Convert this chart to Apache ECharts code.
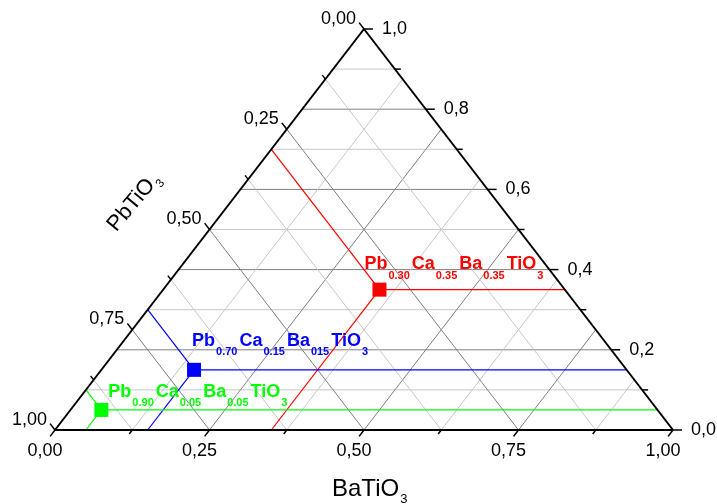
<!DOCTYPE html>
<html>
<head>
<meta charset="utf-8">
<script src="https://cdn.jsdelivr.net/npm/echarts@6/dist/echarts.min.js"></script>
<style>
  html, body { margin: 0; padding: 0; background: #ffffff; }
  #chart { width: 717px; height: 504px; }
</style>
</head>
<body>
<div id="chart"></div>
<script>
// Sample compositions (molar fractions of PbTiO3, CaTiO3, BaTiO3)
const pbFraction = [0.30, 0.70, 0.90];
const caFraction = [0.35, 0.15, 0.05];
const baFraction = [0.35, 0.15, 0.05];
const sampleColors = ['#ff0000', '#0000ff', '#00ff00'];

// Label text of each sample: [symbol, subscript] pieces
const sampleLabelParts = [
  [['Pb', '0.30'], ['Ca', '0.35'], ['Ba', '0.35'], ['TiO', '3']],
  [['Pb', '0.70'], ['Ca', '0.15'], ['Ba', '015'], ['TiO', '3']],
  [['Pb', '0.90'], ['Ca', '0.05'], ['Ba', '0.05'], ['TiO', '3']]
];

// Axis ticks
const baTicks = [0, 0.25, 0.5, 0.75, 1];
const baTickLabels = ['0,00', '0,25', '0,50', '0,75', '1,00'];
const baMinorTicks = [0.125, 0.375, 0.625, 0.875];
const pbTicks = [0, 0.25, 0.5, 0.75, 1];
const pbTickLabels = ['0,00', '0,25', '0,50', '0,75', '1,00'];
const pbMinorTicks = [0.125, 0.375, 0.625, 0.875];
const caTicks = [0, 0.2, 0.4, 0.6, 0.8, 1];
const caTickLabels = ['0,0', '0,2', '0,4', '0,6', '0,8', '1,0'];
const caMinorTicks = [0.1, 0.3, 0.5, 0.7, 0.9];

// Axis titles
const bottomTitle = ['BaTiO', '3'];
const leftTitle = ['PbTiO', '3'];

// ---- styling ----
const FONT_FAMILY = '"Liberation Sans", Arial, Helvetica, sans-serif';
const MAJOR_GRID = '#808080';
const MINOR_GRID = '#c8c8c8';
const labelOffsets = [[-15, -19], [-2, -23], [7, -12]];

// ternary (ba, ca) -> plane coordinates; PbTiO3 corner at origin
function plane(ba, ca) { return [ba + ca / 2, ca]; }

const measureCtx = document.createElement('canvas').getContext('2d');
function textWidth(text, size, weight) {
  measureCtx.font = weight + ' ' + size + 'px ' + FONT_FAMILY;
  return measureCtx.measureText(text).width;
}

function unit(a, b) {
  const dx = a[0] - b[0], dy = a[1] - b[1];
  const l = Math.sqrt(dx * dx + dy * dy);
  return [dx / l, dy / l];
}

// grid segments: [x1, y1, x2, y2, major]
const gridSegments = [];
function isIn(arr, v) { return arr.some(t => Math.abs(t - v) < 1e-9); }
caTicks.concat(caMinorTicks).filter(v => v > 0 && v < 1).forEach(v => {
  gridSegments.push([...plane(0, v), ...plane(1 - v, v), isIn(caTicks, v) ? 1 : 0]);
});
baTicks.concat(baMinorTicks).filter(v => v > 0 && v < 1).forEach(v => {
  gridSegments.push([...plane(v, 0), ...plane(v, 1 - v), isIn(baTicks, v) ? 1 : 0]);
});
pbTicks.concat(pbMinorTicks).filter(v => v > 0 && v < 1).forEach(v => {
  gridSegments.push([...plane(1 - v, 0), ...plane(0, 1 - v), isIn(pbTicks, v) ? 1 : 0]);
});

// guide segments from each sample to the three edges: [x1, y1, x2, y2, sample]
const guideSegments = [];
pbFraction.forEach((pb, i) => {
  const ca = caFraction[i], ba = baFraction[i];
  const p = plane(ba, ca);
  guideSegments.push([...p, ...plane(1 - ca, ca), i]); // constant CaTiO3
  guideSegments.push([...p, ...plane(ba, 0), i]);      // constant BaTiO3
  guideSegments.push([...p, ...plane(0, 1 - pb), i]);  // constant PbTiO3
});

// triangle edges
const edgeSegments = [
  [...plane(0, 0), ...plane(1, 0), 0],
  [...plane(1, 0), ...plane(0, 1), 0],
  [...plane(0, 1), ...plane(0, 0), 0]
];

// ticks: [x, y, axis, labelIndex, major]
const tickItems = [];
baTicks.forEach((v, i) => tickItems.push([...plane(v, 0), 0, i, 1]));
baMinorTicks.forEach(v => tickItems.push([...plane(v, 0), 0, -1, 0]));
pbTicks.forEach((v, i) => tickItems.push([...plane(0, 1 - v), 1, i, 1]));
pbMinorTicks.forEach(v => tickItems.push([...plane(0, 1 - v), 1, -1, 0]));
caTicks.forEach((v, i) => tickItems.push([...plane(1 - v, v), 2, i, 1]));
caMinorTicks.forEach(v => tickItems.push([...plane(1 - v, v), 2, -1, 0]));
const tickLabelSets = [baTickLabels, pbTickLabels, caTickLabels];

const samplePoints = pbFraction.map((pb, i) => ({
  value: plane(baFraction[i], caFraction[i]),
  itemStyle: { color: sampleColors[i], opacity: 1 }
}));
const sampleLabelItems = pbFraction.map((pb, i) => [...plane(baFraction[i], caFraction[i]), i]);

function segmentRenderer(styleFn) {
  return function (params, api) {
    const p1 = api.coord([api.value(0), api.value(1)]);
    const p2 = api.coord([api.value(2), api.value(3)]);
    return {
      type: 'line',
      shape: { x1: p1[0], y1: p1[1], x2: p2[0], y2: p2[1] },
      style: styleFn(api.value(4))
    };
  };
}

function textEl(text, x, y, size, weight, fill, align, vAlign) {
  return {
    type: 'text',
    x: x, y: y,
    style: {
      text: text, fill: fill,
      fontSize: size, fontFamily: FONT_FAMILY, fontWeight: weight,
      align: align, verticalAlign: vAlign
    }
  };
}

// text made of [main, subscript] pairs, left edge at x, main baseline at y
function subscriptGroup(parts, x, y, mainSize, subSize, weight, fill, subDrop) {
  const children = [];
  let cx = x;
  parts.forEach(([main, sub]) => {
    children.push(textEl(main, cx, y - 0.35 * mainSize, mainSize, weight, fill, 'left', 'middle'));
    cx += textWidth(main, mainSize, weight) + 1;
    children.push(textEl(sub, cx, y + subDrop - 0.35 * subSize, subSize, weight, fill, 'left', 'middle'));
    cx += textWidth(sub, subSize, weight) + 2;
  });
  return children;
}

const TICK_SIZE = 18;

const option = {
  animation: false,
  backgroundColor: '#ffffff',
  grid: { left: 55, right: 44, top: 29, bottom: 74 },
  xAxis: { type: 'value', min: 0, max: 1, show: false },
  yAxis: { type: 'value', min: 0, max: 1, show: false },
  series: [
    {
      type: 'custom', name: 'grid', z: 1, silent: true,
      data: gridSegments,
      renderItem: segmentRenderer(major => ({ stroke: major ? MAJOR_GRID : MINOR_GRID, lineWidth: 1 }))
    },
    {
      type: 'custom', name: 'guides', z: 2, silent: true,
      data: guideSegments,
      renderItem: segmentRenderer(i => ({ stroke: sampleColors[i], lineWidth: 1.2 }))
    },
    {
      type: 'custom', name: 'edges', z: 3, silent: true,
      data: edgeSegments,
      renderItem: segmentRenderer(() => ({ stroke: '#000000', lineWidth: 2 }))
    },
    {
      type: 'custom', name: 'ticks', z: 3, silent: true,
      data: tickItems,
      renderItem: function (params, api) {
        const p = api.coord([api.value(0), api.value(1)]);
        const axis = api.value(2), li = api.value(3), major = api.value(4);
        const cPb = api.coord(plane(0, 0)), cBa = api.coord(plane(1, 0)), cCa = api.coord(plane(0, 1));
        let dir;
        if (axis === 0) dir = unit(cPb, cCa);
        else if (axis === 1) dir = unit(cCa, cBa);
        else dir = [1, 0];
        const len = axis === 2 ? (major ? 9 : 6) : (major ? 8 : 5);
        const children = [{
          type: 'line',
          shape: { x1: p[0], y1: p[1], x2: p[0] + dir[0] * len, y2: p[1] + dir[1] * len },
          style: { stroke: '#000000', lineWidth: 1.5 }
        }];
        if (li >= 0) {
          const text = tickLabelSets[axis][li];
          if (axis === 0) {
            children.push(textEl(text, p[0] + dir[0] * 8 - 5, p[1] + dir[1] * 8 + 15, TICK_SIZE, 'normal', '#000', 'center', 'middle'));
          } else if (axis === 1) {
            children.push(textEl(text, p[0] + dir[0] * 13, p[1] + dir[1] * 13, TICK_SIZE, 'normal', '#000', 'right', 'middle'));
          } else {
            children.push(textEl(text, p[0] + 18, p[1], TICK_SIZE, 'normal', '#000', 'left', 'middle'));
          }
        }
        return { type: 'group', children: children };
      }
    },
    {
      type: 'scatter', name: 'samples', z: 5,
      symbol: 'rect', symbolSize: 14,
      data: samplePoints
    },
    {
      type: 'custom', name: 'sampleLabels', z: 6, silent: true,
      data: sampleLabelItems,
      renderItem: function (params, api) {
        const p = api.coord([api.value(0), api.value(1)]);
        const i = api.value(2);
        const off = labelOffsets[i];
        return {
          type: 'group',
          children: subscriptGroup(sampleLabelParts[i], p[0] + off[0], p[1] + off[1], 18, 11, 'bold', sampleColors[i], 9)
        };
      }
    },
    {
      type: 'custom', name: 'axisTitles', z: 6, silent: true,
      data: [[...plane(0.5, 0), 0], [...plane(0, 0.5), 1]],
      renderItem: function (params, api) {
        const p = api.coord([api.value(0), api.value(1)]);
        if (api.value(2) === 0) {
          return {
            type: 'group',
            children: subscriptGroup([bottomTitle], p[0] - 32, p[1] + 68, 24, 13, 'normal', '#000', 6)
          };
        }
        return {
          type: 'group',
          x: p[0] - 92, y: p[1] + 4,
          rotation: 50 * Math.PI / 180,
          children: subscriptGroup([leftTitle], 0, 0, 22, 12, 'normal', '#000', 5)
        };
      }
    }
  ]
};

const chart = echarts.init(document.getElementById('chart'), null, { renderer: 'canvas' });
chart.setOption(option);
</script>
</body>
</html>
